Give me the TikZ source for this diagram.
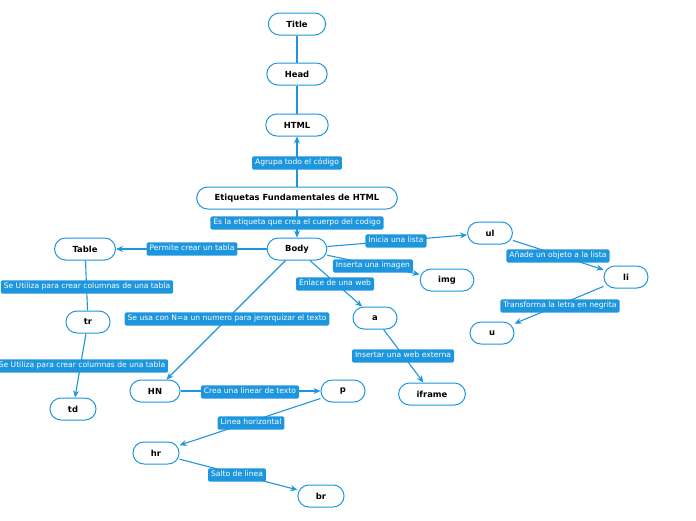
\documentclass[tikz,border=0pt]{standalone}
\usepackage{fontspec}
\setmainfont{DejaVu Sans}
\usetikzlibrary{arrows.meta}
\definecolor{mapblue}{RGB}{30,150,222}

\begin{document}
\begin{tikzpicture}[x=1pt, y=-1pt,
    tag/.style={draw=mapblue, line width=1pt, fill=white, rounded corners=11pt,
      minimum height=22pt, minimum width=44pt, inner xsep=18pt,
      font=\fontsize{8.4}{10}\selectfont\bfseries},
    lbl/.style={fill=mapblue, text=white, rounded corners=1.5pt, inner xsep=3pt,
      inner ysep=3.2pt, text height=5.3pt, text depth=1.5pt,
      font=\fontsize{7.6}{8}\selectfont},
    link/.style={draw=mapblue, line width=1.1pt},
    arr/.style={link, -{Stealth[length=7pt,width=6pt]}}]
  \useasboundingbox (0,0) rectangle (696,520);

  % Head part
  \node[tag] (title) at (297,24) {Title};
  \node[tag] (head) at (297,74) {Head};
  \node[tag] (html) at (297,125) {HTML};
  \node[tag] (etiq) at (297,198) {Etiquetas Fundamentales de HTML};
  \node[tag] (body) at (297,249) {Body};

  % Table part
  \node[tag] (table) at (85,249) {Table};
  \node[tag] (tr) at (88,322) {tr};
  \node[tag] (td) at (73,409) {td};

  % Text part
  \node[tag] (hn) at (155,391) {HN};
  \node[tag] (p) at (343,391) {p};
  \node[tag] (hr) at (156,453) {hr};
  \node[tag] (br) at (321,496) {br};

  % Lists, images and links
  \node[tag] (ul) at (490,233) {ul};
  \node[tag] (img) at (447,280) {img};
  \node[tag] (a) at (375,318) {a};
  \node[tag] (iframe) at (432,394) {iframe};
  \node[tag] (li) at (626,277) {li};
  \node[tag] (u) at (492,333) {u};

  % Connectors
  \draw[link] (head) -- (title);
  \draw[link] (html) -- (head);
  \draw[arr] (etiq) -- (html);
  \draw[arr] (etiq) -- (body);
  \draw[arr] (body) -- (table);
  \draw[link] (table) -- (tr);
  \draw[arr] (tr) -- (td);
  \draw[arr] (body) -- (hn);
  \draw[arr] (hn) -- (p);
  \draw[arr] (p) -- (hr);
  \draw[arr] (hr) -- (br);
  \draw[arr] (body) -- (ul);
  \draw[arr] (body) -- (img);
  \draw[arr] (body) -- (a);
  \draw[arr] (a) -- (iframe);
  \draw[arr] (ul) -- (li);
  \draw[arr] (li) -- (u);

  % Labels on the connectors
  \node[lbl] (l1) at (297,163) {Agrupa todo el código};
  \node[lbl] (l2) at (297,223) {Es la etiqueta que crea el cuerpo del codigo};
  \node[lbl] (l3) at (192,249) {Permite crear un tabla};
  \node[lbl] (l4) at (87,287) {Se Utiliza para crear columnas de una tabla};
  \node[lbl] (l5) at (82,366) {Se Utiliza para crear columnas de una tabla};
  \node[lbl] (l6) at (227,319) {Se usa con N=a un numero para jerarquizar el texto};
  \node[lbl] (l7) at (250,392) {Crea una linear de texto};
  \node[lbl] (l8) at (251,423) {Linea horizontal};
  \node[lbl] (l9) at (237,475) {Salto de linea};
  \node[lbl] (l10) at (396,241) {Inicia una lista};
  \node[lbl] (l11) at (373,266) {Inserta una imagen};
  \node[lbl] (l12) at (335,284) {Enlace de una web};
  \node[lbl] (l13) at (403,356) {Insertar una web externa};
  \node[lbl] (l14) at (558,256) {Añade un objeto a la lista};
  \node[lbl] (l15) at (560,306) {Transforma la letra en negrita};

\end{tikzpicture}
\end{document}
